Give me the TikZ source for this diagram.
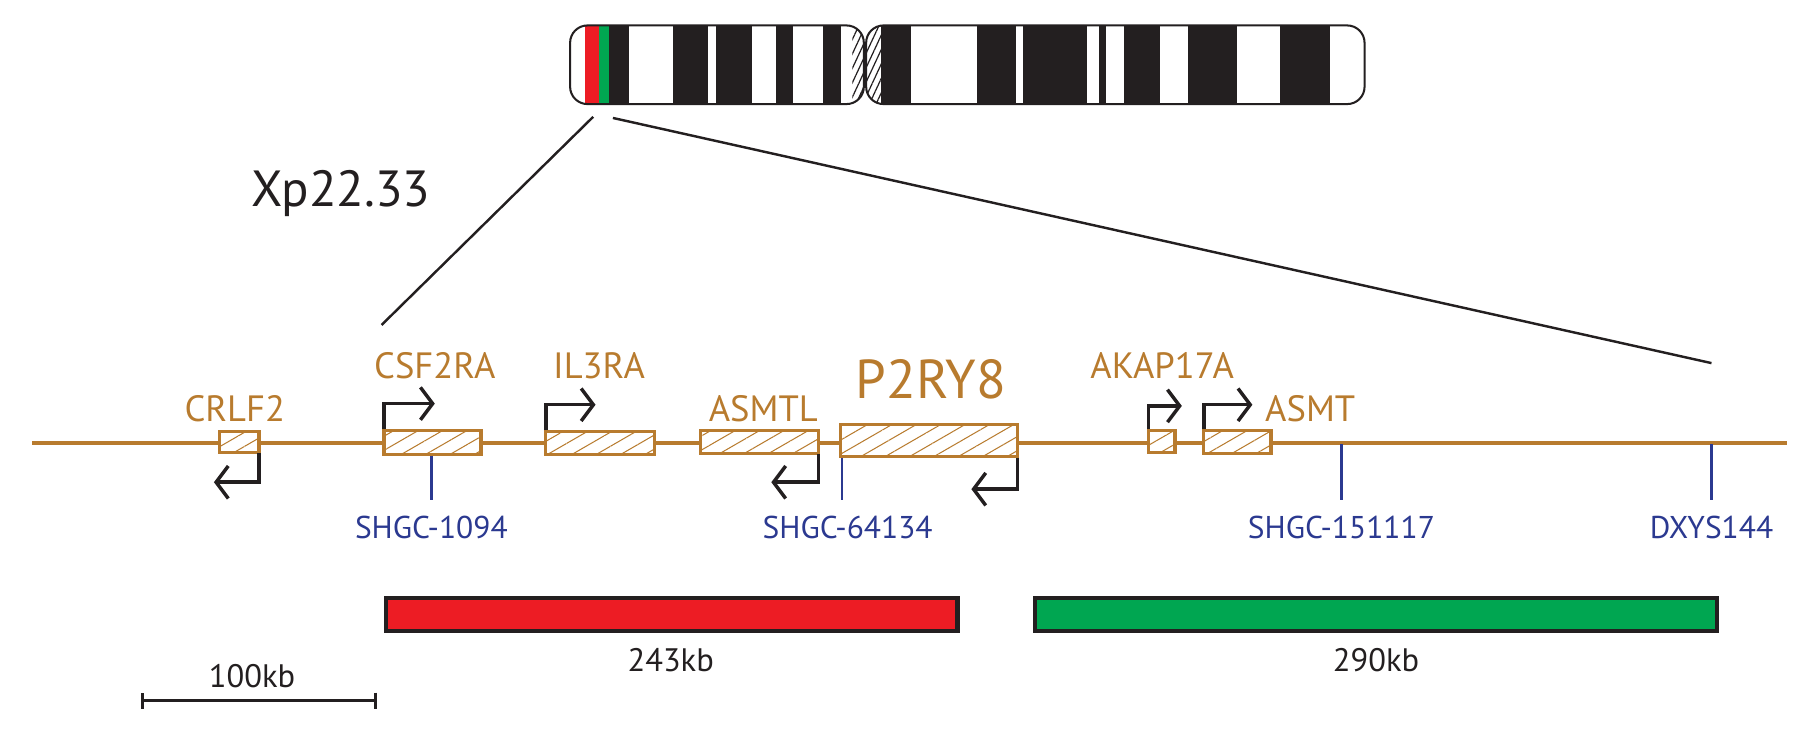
\documentclass[tikz,border=0pt]{standalone}
\usepackage{fontspec}
\setmainfont{PT Sans}
\usetikzlibrary{arrows.meta,patterns.meta}
\definecolor{geneBrown}{RGB}{184,123,46}
\definecolor{markBlue}{RGB}{43,57,144}
\definecolor{bandBlack}{RGB}{35,31,32}
\definecolor{regRed}{RGB}{237,28,36}
\definecolor{regGreen}{RGB}{0,166,81}
\begin{document}
\begin{tikzpicture}[x=0.02cm, y=-0.02cm,
    geneStyle/.style={draw=geneBrown, line width=1.6pt, pattern={Lines[angle=30,distance=6pt,line width=0.5pt]}, pattern color=geneBrown},
    geneLabel/.style={text=geneBrown, font=\fontsize{18}{20}\selectfont},
    markStyle/.style={draw=markBlue, line width=1.2pt},
    markLabel/.style={text=markBlue, font=\fontsize{15.5}{18}\selectfont},
    tssStyle/.style={draw=bandBlack, line width=1.7pt, -{Straight Barb[length=6pt,width=16pt,line width=1.7pt]}},
    regionStyle/.style={draw=bandBlack, line width=2pt},
    sizeLabel/.style={font=\fontsize{16}{18}\selectfont, text=bandBlack}]
    \useasboundingbox (0,0) rectangle (1560,642);

    % chromosome X
    \begin{scope}
        \clip[rounded corners=0.3cm] (493,22) rectangle (747,90);
        \fill[regRed] (506,22) rectangle (518,90);
        \fill[regGreen] (518,22) rectangle (527,90);
        \foreach \a/\b in {527/544, 582/612, 619/650, 671/686, 712/727}
            \fill[bandBlack] (\a,22) rectangle (\b,90);
        \fill[pattern={Lines[angle=65,distance=3pt,line width=0.6pt]}, pattern color=bandBlack] (737,22) rectangle (747,90);
    \end{scope}
    \begin{scope}
        \clip[rounded corners=0.3cm] (749,22) rectangle (1180,90);
        \fill[pattern={Lines[angle=65,distance=3pt,line width=0.6pt]}, pattern color=bandBlack] (749,22) rectangle (762,90);
        \foreach \a/\b in {762/788, 845/879, 885/940, 950/956, 972/1003, 1027/1070, 1107/1150}
            \fill[bandBlack] (\a,22) rectangle (\b,90);
    \end{scope}
    \draw[bandBlack, line width=1pt, rounded corners=0.3cm] (493,22) rectangle (747,90);
    \draw[bandBlack, line width=1pt, rounded corners=0.3cm] (749,22) rectangle (1180,90);

    \coordinate (zoomL) at (513,101);
    \coordinate (zoomR) at (530,102);
    \coordinate (lineL) at (330,281);
    \coordinate (lineR) at (1480,314);
    \draw[bandBlack, line width=1.2pt] (zoomL) -- (lineL);
    \draw[bandBlack, line width=1.2pt] (zoomR) -- (lineR);
    \node[text=bandBlack, font=\fontsize{25}{28}\selectfont] (band) at (295,167) {Xp22.33};

    % gene track
    \coordinate (trackL) at (28,383);
    \coordinate (trackR) at (1545,383);
    \draw[geneBrown, line width=1.6pt] (trackL) -- (trackR);

    \draw[geneStyle, fill=white] (190,373) rectangle (224,391);
    \draw[geneStyle, fill=white] (332,372) rectangle (416,393);
    \draw[geneStyle, fill=white] (472,373) rectangle (566,393);
    \draw[geneStyle, fill=white] (606,372) rectangle (708,392);
    \draw[geneStyle, fill=white] (727,367) rectangle (880,395);
    \draw[geneStyle, fill=white] (993,372) rectangle (1016,391);
    \draw[geneStyle, fill=white] (1041,372) rectangle (1099,392);
    \fill[pattern={Lines[angle=30,distance=6pt,line width=0.5pt]}, pattern color=geneBrown] (190,373) rectangle (224,391);
    \fill[pattern={Lines[angle=30,distance=6pt,line width=0.5pt]}, pattern color=geneBrown] (332,372) rectangle (416,393);
    \fill[pattern={Lines[angle=30,distance=6pt,line width=0.5pt]}, pattern color=geneBrown] (472,373) rectangle (566,393);
    \fill[pattern={Lines[angle=30,distance=6pt,line width=0.5pt]}, pattern color=geneBrown] (606,372) rectangle (708,392);
    \fill[pattern={Lines[angle=30,distance=6pt,line width=0.5pt]}, pattern color=geneBrown] (727,367) rectangle (880,395);
    \fill[pattern={Lines[angle=30,distance=6pt,line width=0.5pt]}, pattern color=geneBrown] (993,372) rectangle (1016,391);
    \fill[pattern={Lines[angle=30,distance=6pt,line width=0.5pt]}, pattern color=geneBrown] (1041,372) rectangle (1099,392);

    \node[geneLabel] (crlf) at (203,353) {CRLF2};
    \node[geneLabel] (csf) at (376,316) {CSF2RA};
    \node[geneLabel] (il3) at (518,316) {IL3RA};
    \node[geneLabel] (asmtl) at (660,353) {ASMTL};
    \node[geneLabel, font=\fontsize{27}{30}\selectfont] (p2ry) at (805,328) {P2RY8};
    \node[geneLabel] (akap) at (1005,316) {AKAP17A};
    \node[geneLabel] (asmt) at (1133,353) {ASMT};

    % transcription starts
    \draw[tssStyle] (224,392) |- (185,417);
    \draw[tssStyle] (332,371) |- (376,349);
    \draw[tssStyle] (472,372) |- (515,350);
    \draw[tssStyle] (708,393) |- (667,417);
    \draw[tssStyle] (880,396) |- (840,423);
    \draw[tssStyle] (993,371) |- (1022,351);
    \draw[tssStyle] (1041,371) |- (1083,350);

    % markers
    \draw[markStyle] (373,394) -- (373,432);
    \draw[markStyle] (728,396) -- (728,432);
    \draw[markStyle] (1160,384) -- (1160,432);
    \draw[markStyle] (1480,384) -- (1480,432);
    \node[markLabel] (m1) at (373,456) {SHGC-1094};
    \node[markLabel] (m2) at (733,456) {SHGC-64134};
    \node[markLabel] (m3) at (1160,456) {SHGC-151117};
    \node[markLabel] (m4) at (1480,456) {DXYS144};

    % deleted regions
    \draw[regionStyle, fill=regRed] (334,517) rectangle (828,546);
    \draw[regionStyle, fill=regGreen] (895,517) rectangle (1485,546);
    \node[sizeLabel] (s1) at (580,571) {243kb};
    \node[sizeLabel] (s2) at (1190,571) {290kb};

    % scale bar
    \coordinate (barL) at (122,606);
    \coordinate (barR) at (326,606);
    \draw[bandBlack, line width=1.4pt, {Bar[width=8pt]}-{Bar[width=8pt]}] (barL) -- (barR);
    \node[sizeLabel] (s0) at (218,585) {100kb};
\end{tikzpicture}
\end{document}
